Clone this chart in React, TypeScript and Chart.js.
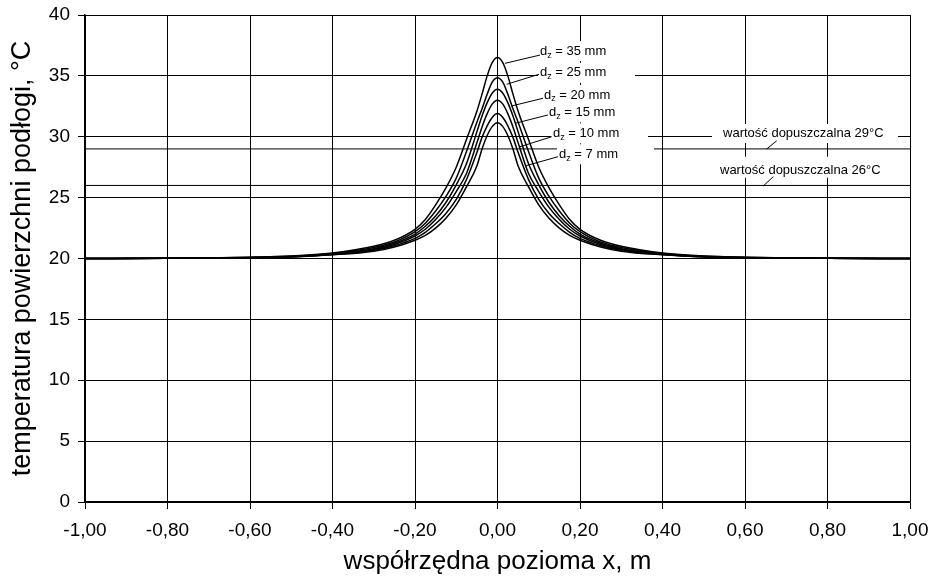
import React, { useEffect, useRef } from "react";
import { Chart, registerables } from "chart.js";

Chart.register(...registerables);

// x positions (m) for the right half of the symmetric profile
const X_HALF = [0, 0.0125, 0.025, 0.0375, 0.05, 0.075, 0.1, 0.125, 0.15, 0.175, 0.2, 0.25, 0.3, 0.4, 0.5, 0.6, 0.8, 1.0];

// surface temperature (°C) for each screed thickness dz
const T_35 = [36.5, 36.1, 35.0, 33.5, 32.1, 29.8, 27.5, 25.8, 24.4, 23.2, 22.4, 21.5, 21.0, 20.45, 20.2, 20.1, 20.03, 20.0];
const T_25 = [34.85, 34.5, 33.5, 32.3, 31.2, 28.8, 26.6, 25.1, 23.9, 22.9, 22.2, 21.35, 20.9, 20.42, 20.18, 20.09, 20.03, 20.0];
const T_20 = [33.9, 33.6, 32.8, 31.7, 30.4, 27.8, 26.05, 24.6, 23.5, 22.65, 22.0, 21.25, 20.8, 20.38, 20.16, 20.08, 20.02, 20.0];
const T_15 = [33.0, 32.7, 31.9, 30.8, 29.5, 27.0, 25.5, 24.2, 23.2, 22.4, 21.85, 21.15, 20.75, 20.35, 20.15, 20.07, 20.02, 20.0];
const T_10 = [31.9, 31.6, 30.9, 29.95, 28.7, 26.5, 24.85, 23.7, 22.85, 22.15, 21.65, 21.05, 20.68, 20.32, 20.14, 20.06, 20.02, 20.0];
const T_7 = [31.15, 30.85, 30.1, 29.0, 27.6, 25.9, 24.4, 23.3, 22.5, 21.9, 21.5, 20.95, 20.6, 20.3, 20.13, 20.06, 20.02, 20.0];

const SERIES = [T_35, T_25, T_20, T_15, T_10, T_7];
const SERIES_NAMES = ["35", "25", "20", "15", "10", "7"];

// permissible values (°C)
const LIMITS = [29, 26];
const LIMIT_LABELS = ["wartość dopuszczalna 29°C", "wartość dopuszczalna 26°C"];

const X_MIN = -1;
const X_MAX = 1;
const Y_MIN = 0;
const Y_MAX = 40;

const FONT = "'Liberation Sans', Arial, sans-serif";

function mirror(ys: number[]) {
  const pts: { x: number; y: number }[] = [];
  for (let i = X_HALF.length - 1; i > 0; i--) pts.push({ x: -X_HALF[i], y: ys[i] });
  for (let i = 0; i < X_HALF.length; i++) pts.push({ x: X_HALF[i], y: ys[i] });
  return pts;
}

// label anchors in data units: text anchor (left, middle) and leader line
const DZ_LABELS = [
  { tx: 0.103, ty: 37.04, x1: 0.0182, y1: 36.03, x2: 0.103, y2: 36.71 },
  { tx: 0.103, ty: 35.26, x1: 0.0223, y1: 34.31, x2: 0.1006, y2: 35.13 },
  { tx: 0.1127, ty: 33.43, x1: 0.0344, y1: 32.53, x2: 0.1103, y2: 33.16 },
  { tx: 0.1248, ty: 32.01, x1: 0.0424, y1: 31.1, x2: 0.1224, y2: 31.79 },
  { tx: 0.1345, ty: 30.28, x1: 0.0545, y1: 29.18, x2: 0.1314, y2: 30.0 },
  { tx: 0.1491, ty: 28.56, x1: 0.0667, y1: 27.6, x2: 0.1467, y2: 28.36 },
];

const LIMIT_ANCHORS = [
  { tx: 0.5467, ty: 30.31, x1: 0.6526, y1: 28.99, x2: 0.6768, y2: 29.67, bl: -11, br: 175, bt: -9, bb: 10 },
  { tx: 0.5394, ty: 27.21, x1: 0.6444, y1: 25.96, x2: 0.6686, y2: 26.72, bl: -10, br: 175, bt: -14, bb: 7 },
];

const labelPlugin = {
  id: "labelPlugin",
  afterDatasetsDraw(chart: any) {
    const { ctx, scales } = chart;
    const xs = scales.x;
    const ys = scales.y;
    ctx.save();
    DZ_LABELS.forEach((l, i) => {
      const px = xs.getPixelForValue(l.tx);
      const py = ys.getPixelForValue(l.ty);
      ctx.fillStyle = "#fff";
      ctx.fillRect(px - 2, py - 10, 97, 20);
      ctx.strokeStyle = "#000";
      ctx.lineWidth = 1;
      ctx.beginPath();
      ctx.moveTo(xs.getPixelForValue(l.x1), ys.getPixelForValue(l.y1));
      ctx.lineTo(xs.getPixelForValue(l.x2), ys.getPixelForValue(l.y2));
      ctx.stroke();
      ctx.fillStyle = "#000";
      ctx.textBaseline = "middle";
      ctx.textAlign = "left";
      ctx.font = `13px ${FONT}`;
      let cx = px;
      ctx.fillText("d", cx, py);
      cx += ctx.measureText("d").width;
      ctx.font = `9px ${FONT}`;
      ctx.fillText("z", cx, py + 4);
      cx += ctx.measureText("z").width;
      ctx.font = `13px ${FONT}`;
      ctx.fillText(` = ${SERIES_NAMES[i]} mm`, cx, py);
    });
    LIMIT_ANCHORS.forEach((l, i) => {
      const px = xs.getPixelForValue(l.tx);
      const py = ys.getPixelForValue(l.ty);
      ctx.fillStyle = "#fff";
      ctx.fillRect(px + l.bl, py + l.bt, l.br - l.bl, l.bb - l.bt);
      ctx.strokeStyle = "#000";
      ctx.lineWidth = 1;
      ctx.beginPath();
      ctx.moveTo(xs.getPixelForValue(l.x1), ys.getPixelForValue(l.y1));
      ctx.lineTo(xs.getPixelForValue(l.x2), ys.getPixelForValue(l.y2));
      ctx.stroke();
      ctx.fillStyle = "#000";
      ctx.textBaseline = "middle";
      ctx.textAlign = "left";
      ctx.font = `13px ${FONT}`;
      ctx.fillText(LIMIT_LABELS[i], px, py);
    });
    ctx.restore();
  },
};

function fmt(v: number) {
  const n = Math.abs(v) < 1e-9 ? 0 : v;
  return n.toFixed(2).replace(".", ",");
}

export default function App() {
  const ref = useRef<HTMLCanvasElement | null>(null);
  useEffect(() => {
    if (!ref.current) return;
    const datasets: any[] = SERIES.map((s, i) => ({
      label: `dz = ${SERIES_NAMES[i]} mm`,
      data: mirror(s),
      borderColor: "#000",
      borderWidth: 1.5,
      pointRadius: 0,
      fill: false,
      cubicInterpolationMode: "monotone",
    }));
    LIMITS.forEach((v, i) => {
      datasets.push({
        label: LIMIT_LABELS[i],
        data: [
          { x: X_MIN, y: v },
          { x: X_MAX, y: v },
        ],
        borderColor: "#000",
        borderWidth: 1,
        pointRadius: 0,
        fill: false,
      });
    });
    const chart = new Chart(ref.current, {
      type: "line",
      data: { datasets },
      options: {
        animation: false,
        responsive: false,
        devicePixelRatio: 1,
        layout: { padding: { top: 15, right: 22, left: 0, bottom: 0 } },
        plugins: { legend: { display: false }, tooltip: { enabled: false } },
        scales: {
          x: {
            type: "linear",
            min: X_MIN,
            max: X_MAX,
            afterFit: (s: any) => {
              s.height = 82;
              s.paddingLeft = 0;
              s.paddingRight = 0;
            },
            ticks: {
              stepSize: 0.2,
              callback: (v: any) => fmt(Number(v)),
              color: "#000",
              font: { family: FONT, size: 19 },
              padding: 10,
              maxRotation: 0,
            },
            grid: { color: "#000", lineWidth: 1, tickLength: 7 },
            border: { color: "#000", width: 1.5 },
            title: {
              display: true,
              text: "współrzędna pozioma x, m",
              color: "#000",
              font: { family: FONT, size: 26 },
              padding: { bottom: 7, top: 0 },
            },
          },
          y: {
            type: "linear",
            min: Y_MIN,
            max: Y_MAX,
            afterFit: (s: any) => {
              s.width = 85;
              s.paddingTop = 0;
              s.paddingBottom = 0;
            },
            ticks: {
              stepSize: 5,
              color: "#000",
              font: { family: FONT, size: 19 },
              padding: 8,
            },
            grid: { color: "#000", lineWidth: 1, tickLength: 7 },
            border: { color: "#000", width: 1.5 },
            title: {
              display: true,
              text: "temperatura powierzchni podłogi, °C",
              color: "#000",
              font: { family: FONT, size: 27 },
              padding: { top: 6, bottom: 0 },
            },
          },
        },
      },
      plugins: [labelPlugin],
    } as any);
    return () => chart.destroy();
  }, []);
  return (
    <div style={{ position: "absolute", left: 0, top: 0, width: 932, height: 584, background: "#fff" }}>
      <canvas ref={ref} width={932} height={584} />
    </div>
  );
}
